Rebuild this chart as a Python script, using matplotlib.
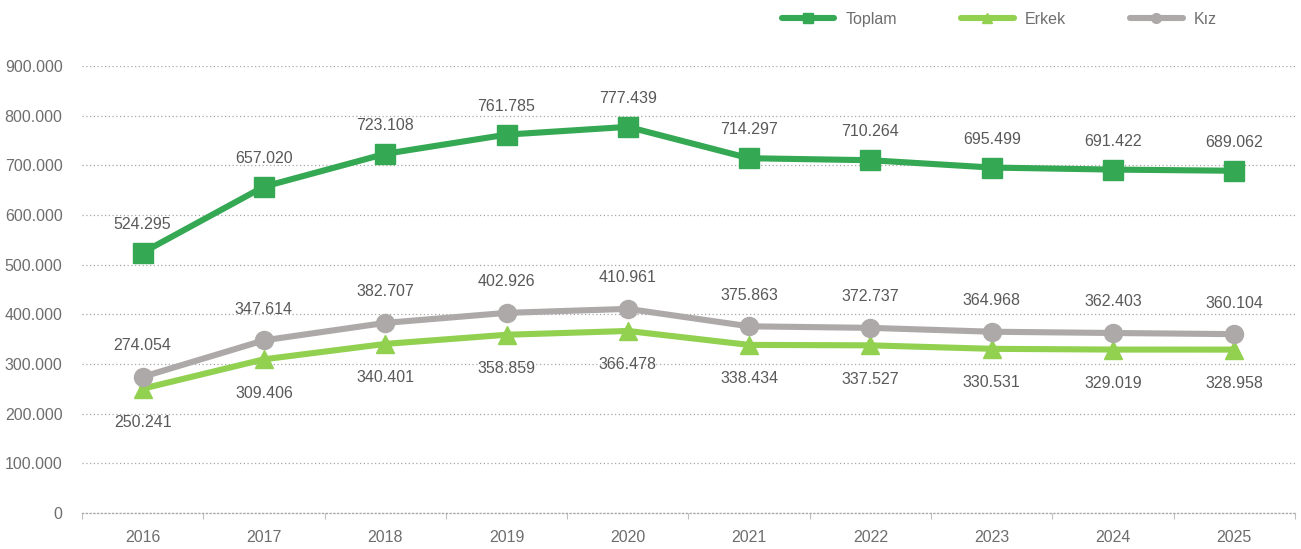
import matplotlib.pyplot as plt

plt.rcParams['font.family'] = ['Liberation Sans', 'DejaVu Sans']

years = ['2016', '2017', '2018', '2019', '2020', '2021', '2022', '2023', '2024', '2025']
toplam = [524295, 657020, 723108, 761785, 777439, 714297, 710264, 695499, 691422, 689062]
erkek = [250241, 309406, 340401, 358859, 366478, 338434, 337527, 330531, 329019, 328958]
kiz = [274054, 347614, 382707, 402926, 410961, 375863, 372737, 364968, 362403, 360104]

text_color = '#595959'
axis_text = '#6E6E6E'
c_toplam = '#34A853'
c_erkek = '#92D050'
c_kiz = '#ADA9A9'
fs = 11.5


def fmt(v):
    return f'{v:,}'.replace(',', '.')


fig = plt.figure(figsize=(13.01, 5.49), dpi=100)
ax = fig.add_axes([0.063, 0.0656, 0.9324, 0.8142])

x = list(range(len(years)))
ax.plot(x, toplam, color=c_toplam, lw=4.4, marker='s', ms=14, label='Toplam', zorder=3)
ax.plot(x, erkek, color=c_erkek, lw=4.4, marker='^', ms=13, label='Erkek', zorder=3)
ax.plot(x, kiz, color=c_kiz, lw=4.4, marker='o', ms=13, label='Kız', zorder=3)

for i in x:
    ax.annotate(fmt(toplam[i]), (i, toplam[i]), xytext=(0, 15), textcoords='offset points',
                ha='center', va='bottom', fontsize=fs, color=text_color)
    ax.annotate(fmt(kiz[i]), (i, kiz[i]), xytext=(0, 17), textcoords='offset points',
                ha='center', va='bottom', fontsize=fs, color=text_color)
    ax.annotate(fmt(erkek[i]), (i, erkek[i]), xytext=(0, -19), textcoords='offset points',
                ha='center', va='top', fontsize=fs, color=text_color)

ax.set_xlim(-0.5, len(years) - 0.5)
ax.set_ylim(0, 900000)
ax.set_yticks(range(0, 900001, 100000))
ax.set_yticklabels([fmt(v) for v in range(0, 900001, 100000)])
ax.set_xticks(x)
ax.set_xticklabels(years)
ax.set_xticks([i - 0.5 for i in range(len(years) + 1)], minor=True)
ax.tick_params(axis='x', which='major', length=0, pad=12, labelsize=fs, labelcolor=axis_text)
ax.tick_params(axis='x', which='minor', length=4, color='#BFBFBF', width=0.8)
ax.tick_params(axis='y', length=0, pad=14, labelsize=fs, labelcolor=axis_text)

ax.grid(axis='y', color='#A6A6A6', linestyle=(0, (1, 2)), lw=0.9)
for s in ['top', 'right', 'left']:
    ax.spines[s].set_visible(False)
ax.spines['bottom'].set_color('#A6A6A6')
ax.spines['bottom'].set_linestyle((0, (1, 2)))
ax.spines['bottom'].set_linewidth(0.9)

handles = [
    plt.Line2D([], [], color=c_toplam, lw=4.4, marker='s', ms=7, solid_capstyle='round'),
    plt.Line2D([], [], color=c_erkek, lw=4.4, marker='^', ms=7, solid_capstyle='round'),
    plt.Line2D([], [], color=c_kiz, lw=4.4, marker='o', ms=7, solid_capstyle='round'),
]
fig.legend(handles, ['Toplam', 'Erkek', 'Kız'], loc='center left', bbox_to_anchor=(0.596, 0.965),
           ncol=3, frameon=False, fontsize=fs, labelcolor=axis_text, handlelength=3.3,
           handletextpad=0.7, columnspacing=4.0, borderaxespad=0)

fig.savefig('out.png', dpi=100)
